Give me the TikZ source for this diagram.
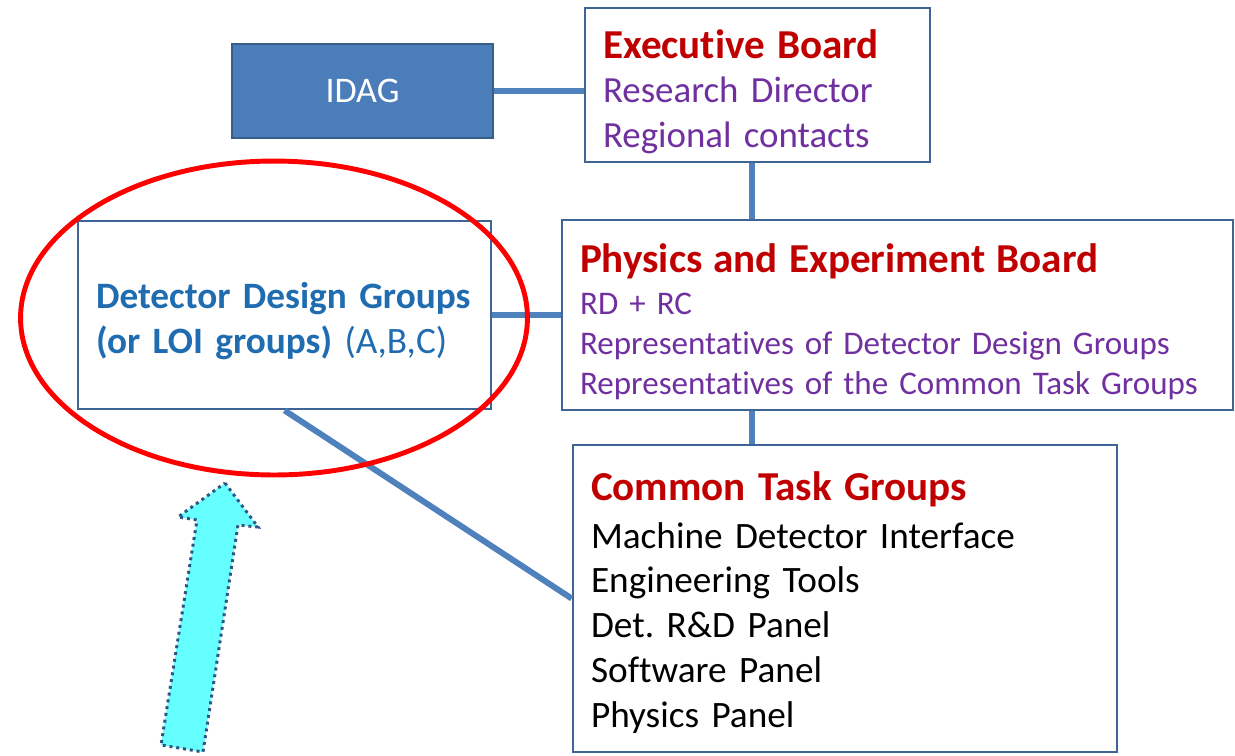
\documentclass[tikz,border=0pt]{standalone}
\usepackage{fontspec}
\setmainfont{Carlito}[Ligatures=NoCommon]
\frenchspacing
\definecolor{boxline}{HTML}{3F6596}
\definecolor{linkblue}{HTML}{4F81BD}
\definecolor{idagfill}{HTML}{4A7DBA}
\definecolor{idagline}{HTML}{385D8A}
\definecolor{titlered}{HTML}{C00000}
\definecolor{rolepurple}{HTML}{7030A0}
\definecolor{groupblue}{HTML}{1F6CB0}
\definecolor{arrowfill}{HTML}{66FFFF}
\definecolor{arrowline}{HTML}{2F5583}
\newcommand{\headroom}[1]{\rule{0pt}{#1}}

\begin{document}
\begin{tikzpicture}[x=0.02cm, y=-0.02cm]
        \useasboundingbox (0,0) rectangle (1235,755);
        \tikzset{
            box/.style={draw=boxline, line width=1.6pt, fill=white, inner xsep=0.36cm, inner ysep=0pt, align=left},
            link/.style={draw=linkblue, line width=3.4pt}
        }
        
        \node[box, fill=idagfill, draw=idagline, minimum width=5.22cm, minimum height=1.88cm, align=center, text=white, font=\fontsize{20.5}{24}\selectfont] (idag) at (362.5,91) {IDAG};
        
        \node[box, text width=6.18cm, minimum height=3.08cm, font=\fontsize{21}{25.5}\selectfont, text=rolepurple] (exec) at (757.5,85) {%
            \headroom{24pt}{\fontsize{23.4}{25.5}\selectfont\bfseries\color{titlered}Executive Board}\\
            Research Director\\
            Regional contacts};
        
        \node[box, text width=12.7cm, minimum height=3.8cm, font=\fontsize{18.8}{22.7}\selectfont, text=rolepurple] (peb) at (897.5,315) {%
            \headroom{24pt}{\fontsize{23.4}{22.7}\selectfont\bfseries\color{titlered}Physics and Experiment Board}\\[1pt]
            RD + RC\\
            Representatives of Detector Design Groups\\
            Representatives of the Common Task Groups};
        
        \node[box, text width=7.54cm, minimum height=3.76cm, font=\fontsize{21.2}{25.5}\selectfont, text=groupblue] (ddg) at (284.5,315) {%
            \headroom{21.5pt}\textbf{Detector Design Groups}\\
            \textbf{(or LOI groups)} (A,B,C)};
        
        \node[box, text width=10.16cm, minimum height=6.14cm, font=\fontsize{21.2}{25.5}\selectfont, text=black] (ctg) at (845,598.5) {%
            \headroom{21pt}{\fontsize{23.4}{25.5}\selectfont\bfseries\color{titlered}Common Task Groups}\\[1.5pt]
            Machine Detector Interface\\
            Engineering Tools\\
            Det. R\&D Panel\\
            Software Panel\\
            Physics Panel};
        
        % connectors
        \coordinate (spine) at (752,0);
        \draw[link] (idag.east) -- (idag.east -| exec.west);
        \draw[link] (spine |- exec.south) -- (spine |- peb.north);
        \draw[link] (ddg.east) -- (peb.west);
        \draw[link] (spine |- peb.south) -- (spine |- ctg.north);
        \draw[link] (ddg.south) -- (ctg.west);
        
        % highlight
        \draw[red, line width=2.8pt] (274,318) ellipse [x radius=5.07cm, y radius=3.14cm];
        \filldraw[fill=arrowfill, draw=arrowline, line width=1.7pt, dash pattern=on 1.7pt off 2.2pt] (225,483) -- (258,527) -- (238,525) -- (203,752) -- (161,745) -- (197,520) -- (178,517) -- cycle;
    \end{tikzpicture}
\end{document}
